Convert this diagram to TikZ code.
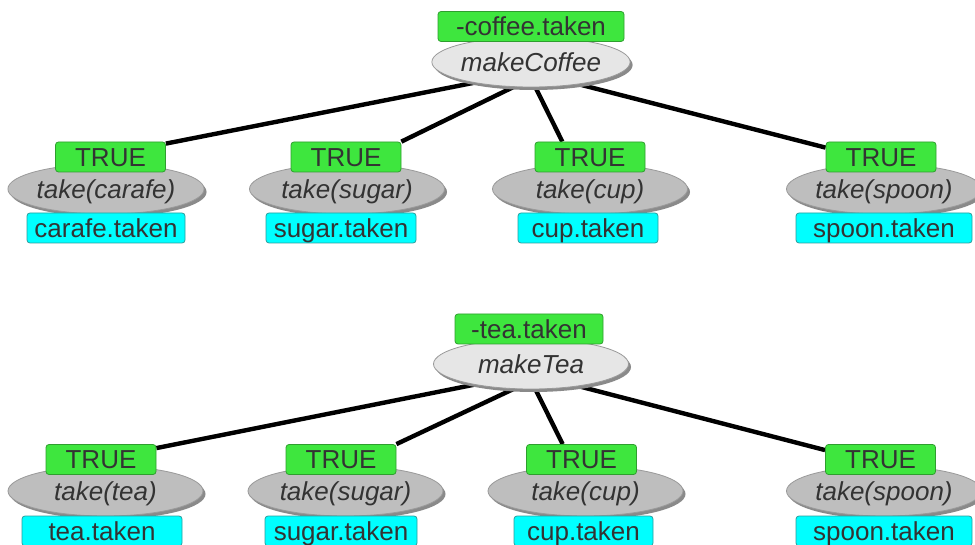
\documentclass[tikz,border=0pt]{standalone}
\usepackage{fontspec}
\setmainfont{Liberation Sans}
\usetikzlibrary{shapes.geometric,shadows,calc}
\pgfdeclarelayer{bg}
\pgfsetlayers{bg,main}
\definecolor{txt}{HTML}{333333}
\definecolor{condgreen}{HTML}{3EE63E}
\definecolor{condgreenb}{HTML}{2E9E2E}
\definecolor{effcyan}{HTML}{00FFFF}
\definecolor{effcyanb}{HTML}{2A9D9D}
\definecolor{rootfill}{HTML}{E6E6E6}
\definecolor{leaffill}{HTML}{BEBEBE}
\definecolor{ellb}{HTML}{9A9A9A}
\definecolor{shad}{HTML}{8A8A8A}
\tikzset{
  base/.style={font=\fontsize{26}{30}\selectfont, text=txt, inner sep=0pt, text height=18.6pt, text depth=0pt},
  condbox/.style={base, rectangle, rounded corners=3pt, draw=condgreenb, line width=0.8pt, fill=condgreen, minimum height=30pt},
  effbox/.style={base, rectangle, rounded corners=3pt, draw=effcyanb, line width=0.8pt, fill=effcyan, minimum height=30pt},
  taskell/.style={base, ellipse, draw=ellb, line width=0.8pt, minimum width=195pt, minimum height=50pt,
    font=\fontsize{26}{30}\selectfont\itshape,
    drop shadow={shadow xshift=2.5pt, shadow yshift=-3pt, fill=shad, opacity=1}},
  rootell/.style={taskell, fill=rootfill},
  leafell/.style={taskell, fill=leaffill},
  edge/.style={line width=4.4pt, black},
}
\begin{document}
\begin{tikzpicture}[x=1pt,y=-1pt]
\useasboundingbox (0,0) rectangle (975,545);
% ---------- top tree ----------
\node[rootell] (mc) at (531,62) {makeCoffee};
\node[condbox, minimum width=186pt] (pc) at (531,26.5) {-coffee.taken};
\node[leafell] (e1) at (106,189) {take(carafe)};
\node[leafell] (e2) at (347,189) {take(sugar)};
\node[leafell] (e3) at (590,189) {take(cup)};
\node[leafell] (e4) at (884,189) {take(spoon)};
\node[condbox, minimum width=110pt] (t1) at (110.5,157) {TRUE};
\node[condbox, minimum width=110pt] (t2) at (346,157) {TRUE};
\node[condbox, minimum width=110pt] (t3) at (590,157) {TRUE};
\node[condbox, minimum width=110pt] (t4) at (881,157) {TRUE};
\node[effbox, minimum width=158pt] (f1) at (106,228) {carafe.taken};
\node[effbox, minimum width=150pt] (f2) at (341,228) {sugar.taken};
\node[effbox, minimum width=140pt] (f3) at (588,228) {cup.taken};
\node[effbox, minimum width=176pt] (f4) at (884,228) {spoon.taken};
% ---------- bottom tree ----------
\node[rootell] (mt) at (531,364) {makeTea};
\node[condbox, minimum width=148pt] (pt) at (529,329) {-tea.taken};
\node[leafell] (e5) at (105.5,491) {take(tea)};
\node[leafell] (e6) at (345.5,491) {take(sugar)};
\node[leafell] (e7) at (585.5,491) {take(cup)};
\node[leafell] (e8) at (884,491) {take(spoon)};
\node[condbox, minimum width=110pt] (t5) at (101,459.5) {TRUE};
\node[condbox, minimum width=110pt] (t6) at (341,459.5) {TRUE};
\node[condbox, minimum width=110pt] (t7) at (581.5,459.5) {TRUE};
\node[condbox, minimum width=110pt] (t8) at (880.5,459.5) {TRUE};
\node[effbox, minimum width=160pt] (f5) at (102,531) {tea.taken};
\node[effbox, minimum width=152pt] (f6) at (341,531) {sugar.taken};
\node[effbox, minimum width=139pt] (f7) at (583.5,531) {cup.taken};
\node[effbox, minimum width=176pt] (f8) at (884,531) {spoon.taken};
% ---------- connectors ----------
\begin{pgfonlayer}{bg}
\fill[white] (0,0) rectangle (975,545);
\draw[edge] (mc.200) -- ($(t1.north east)+(0,2)$);
\draw[edge] (mc.235) -- (t2.north east);
\draw[edge] (mc.280) -- ($(t3.north west)!0.25!(t3.north east)$);
\draw[edge] (mc.335) -- ($(t4.north west)+(0,6)$);
\draw[edge] (mt.200) -- ($(t5.north east)+(0,4)$);
\draw[edge] (mt.235) -- (t6.north east);
\draw[edge] (mt.280) -- ($(t7.north west)!0.33!(t7.north east)$);
\draw[edge] (mt.335) -- ($(t8.north west)+(0,6)$);
\end{pgfonlayer}
\end{tikzpicture}
\end{document}
